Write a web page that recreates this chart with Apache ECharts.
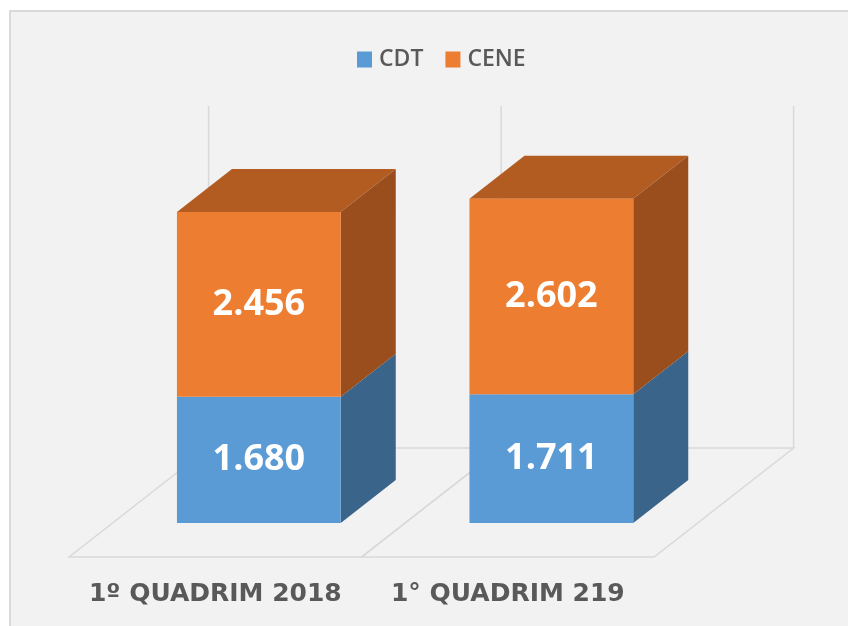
<!DOCTYPE html>
<html>
<head>
<meta charset="utf-8">
<script src="https://cdn.jsdelivr.net/npm/echarts@6/dist/echarts.min.js"></script>
<style>
html, body { margin: 0; padding: 0; background: #ffffff; }
#chart { width: 848px; height: 626px; }
</style>
</head>
<body>
<div id="chart"></div>
<script>
// dati del grafico
const categories = ['1º QUADRIM 2018', '1° QUADRIM 219'];
const seriesNames = ['CDT', 'CENE'];
const cdtValues = [1680, 1711];
const ceneValues = [2456, 2602];

const Y_MAX = 4550; // altezza delle pareti di fondo

// profondità 3D (px)
const DX = 55, DY = -43;        // profondità della barra
const FX = -43.5, FY = 34;      // bordo anteriore del pavimento
const BX = 96, BY = -75;        // bordo posteriore del pavimento

const colors = {
    CDT: { front: '#5B9BD5', side: '#3A6489', top: '#4A7DAB' },
    CENE: { front: '#ED7D31', side: '#9A4E1E', top: '#B35C22' },
};

// 1680 -> "1.680"
function formatNumber(v) {
    return Math.floor(v / 1000) + '.' + String(v % 1000).padStart(3, '0');
}

function renderBox(c, withTop) {
    return function (params, api) {
        const idx = api.value(0);
        const p0 = api.coord([idx, api.value(1)]);
        const p1 = api.coord([idx, api.value(2)]);
        const w = api.size([1, 0])[0] * 0.56;
        const x0 = p0[0] - w / 2;
        const x1 = p0[0] + w / 2;
        const yb = p0[1];
        const yt = p1[1];
        const children = [
            {
                type: 'polygon',
                shape: { points: [[x1, yb], [x1 + DX, yb + DY], [x1 + DX, yt + DY], [x1, yt]] },
                style: { fill: c.side },
            },
            {
                type: 'rect',
                shape: { x: x0, y: yt, width: w, height: yb - yt },
                style: { fill: c.front },
            },
            {
                type: 'text',
                style: {
                    x: p0[0],
                    y: (yb + yt) / 2,
                    text: formatNumber(api.value(3)),
                    fill: '#ffffff',
                    font: 'bold 36px "Open Sans"',
                    align: 'center',
                    verticalAlign: 'middle',
                },
            },
        ];
        if (withTop) {
            // faccia superiore solo per l'ultimo blocco della pila
            children.unshift({
                type: 'polygon',
                shape: { points: [[x0, yt], [x1, yt], [x1 + DX, yt + DY], [x0 + DX, yt + DY]] },
                style: { fill: c.top },
            });
        }
        return { type: 'group', children };
    };
}

// pavimento, pareti ed etichette delle categorie
function renderFrame(params, api) {
    const idx = api.value(0);
    const c = api.coord([idx, 0]);
    const half = api.size([1, 0])[0] / 2;
    const xl = c[0] - half;
    const xr = c[0] + half;
    const y0 = c[1];
    const yTop = api.coord([idx, Y_MAX])[1];
    const lineStyle = { stroke: '#D9D9D9', lineWidth: 1.5, fill: null };
    const children = [
        {
            type: 'polygon',
            shape: { points: [[xl + FX, y0 + FY], [xr + FX, y0 + FY], [xr + BX, y0 + BY], [xl + BX, y0 + BY]] },
            style: lineStyle,
        },
        {
            type: 'line',
            shape: { x1: xl + BX, y1: y0 + BY, x2: xl + BX, y2: yTop + BY },
            style: lineStyle,
        },
        {
            type: 'text',
            style: {
                x: c[0] + FX,
                y: y0 + FY + 37,
                text: categories[idx],
                fill: '#595959',
                font: 'bold 25px "DejaVu Sans"',
                align: 'center',
                verticalAlign: 'middle',
            },
        },
    ];
    if (idx === categories.length - 1) {
        children.push({
            type: 'line',
            shape: { x1: xr + BX, y1: y0 + BY, x2: xr + BX, y2: yTop + BY },
            style: lineStyle,
        });
    }
    return { type: 'group', children };
}

const chartInstance = echarts.init(document.getElementById('chart'));

const option = {
    backgroundColor: '#ffffff',
    animation: false,
    graphic: [
        {
            type: 'rect',
            z: -10,
            shape: { x: 10, y: 11, width: 860, height: 640 },
            style: { fill: '#F2F2F2', stroke: '#D9D9D9', lineWidth: 2 },
        },
    ],
    legend: {
        top: 43,
        left: 352,
        icon: 'rect',
        itemWidth: 15,
        itemHeight: 16,
        itemGap: 22,
        selectedMode: false,
        textStyle: { fontFamily: 'Open Sans', fontWeight: 600, fontSize: 23, color: '#595959', padding: [0, 0, 0, 2] },
        data: [
            { name: 'CDT', itemStyle: { color: colors.CDT.front } },
            { name: 'CENE', itemStyle: { color: colors.CENE.front } },
        ],
    },
    grid: { left: 112.6, right: 150.4, top: 180.9, bottom: 103 },
    xAxis: { type: 'category', data: categories, show: false },
    yAxis: { type: 'value', min: 0, max: Y_MAX, show: false },
    series: [
        {
            type: 'custom',
            name: 'frame',
            z: 1,
            silent: true,
            renderItem: renderFrame,
            data: categories.map((c, i) => [i]),
        },
        {
            type: 'custom',
            name: seriesNames[0],
            z: 2,
            itemStyle: { color: colors.CDT.front },
            renderItem: renderBox(colors.CDT, false),
            data: cdtValues.map((v, i) => [i, 0, v, v]),
        },
        {
            type: 'custom',
            name: seriesNames[1],
            z: 3,
            itemStyle: { color: colors.CENE.front },
            renderItem: renderBox(colors.CENE, true),
            data: ceneValues.map((v, i) => [i, cdtValues[i], cdtValues[i] + v, v]),
        },
    ],
};

chartInstance.setOption(option);
</script>
</body>
</html>
